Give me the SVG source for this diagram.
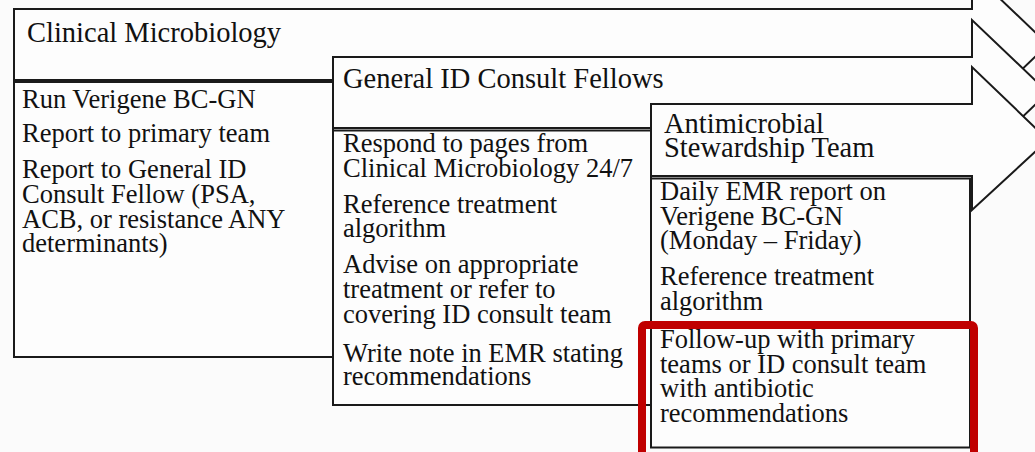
<svg xmlns="http://www.w3.org/2000/svg" width="1035" height="452" viewBox="0 0 1035 452">
<style>
.shape{fill:#fdfdfd;stroke:#1a1a1a;stroke-width:2;stroke-linejoin:miter}
.hdr{font-family:"Liberation Serif","Times New Roman",serif;font-size:28.5px;fill:#111}
.body{font-family:"Liberation Serif","Times New Roman",serif;font-size:26.5px;fill:#111}
.hl{fill:none;stroke:#c00000;stroke-width:8}
</style>
<rect x="0" y="0" width="1035" height="452" fill="#fbfbfb"/>
<g id="clinical-microbiology">
<polygon class="shape" points="14,9 972,9 972,-28 1048,44.5 972,117 972,80 14,80"/>
<rect class="shape" x="14" y="82" width="319" height="275"/>
<text class="hdr" x="27" y="42">Clinical Microbiology</text>
<text class="body" x="22" y="108">Run Verigene BC-GN</text>
<text class="body" x="22" y="142">Report to primary team</text>
<text class="body" x="22" y="178">Report to General ID</text>
<text class="body" x="22" y="203">Consult Fellow (PSA,</text>
<text class="body" x="22" y="228">ACB, or resistance ANY</text>
<text class="body" x="22" y="252">determinants)</text>
</g>
<g id="general-id-consult-fellows">
<polygon class="shape" points="333,57 972,57 972,20 1048,92.5 972,165 972,128 333,128"/>
<rect class="shape" x="333" y="130.5" width="318" height="274.5"/>
<text class="hdr" x="343" y="88">General ID Consult Fellows</text>
<text class="body" x="343" y="152">Respond to pages from</text>
<text class="body" x="343" y="177">Clinical Microbiology 24/7</text>
<text class="body" x="343" y="213">Reference treatment</text>
<text class="body" x="343" y="237">algorithm</text>
<text class="body" x="343" y="273">Advise on appropriate</text>
<text class="body" x="343" y="298">treatment or refer to</text>
<text class="body" x="343" y="323">covering ID consult team</text>
<text class="body" x="343" y="362">Write note in EMR stating</text>
<text class="body" x="343" y="385">recommendations</text>
</g>
<g id="antimicrobial-stewardship-team">
<polygon class="shape" points="651,104 972,104 972,67 1048,140 972,210 972,176 651,176"/>
<rect class="shape" x="651" y="178.5" width="319" height="269"/>
<text class="hdr" x="664" y="133">Antimicrobial</text>
<text class="hdr" x="664" y="157">Stewardship Team</text>
<text class="body" x="660" y="200">Daily EMR report on</text>
<text class="body" x="660" y="225">Verigene BC-GN</text>
<text class="body" x="660" y="249">(Monday – Friday)</text>
<text class="body" x="660" y="285">Reference treatment</text>
<text class="body" x="660" y="310">algorithm</text>
<text class="body" x="660" y="348">Follow-up with primary</text>
<text class="body" x="660" y="373">teams or ID consult team</text>
<text class="body" x="660" y="397">with antibiotic</text>
<text class="body" x="660" y="422">recommendations</text>
</g>
<g id="highlight">
<rect class="hl" x="642" y="325" width="332" height="140" rx="3"/>
</g>
<g id="connectors"></g>
</svg>
